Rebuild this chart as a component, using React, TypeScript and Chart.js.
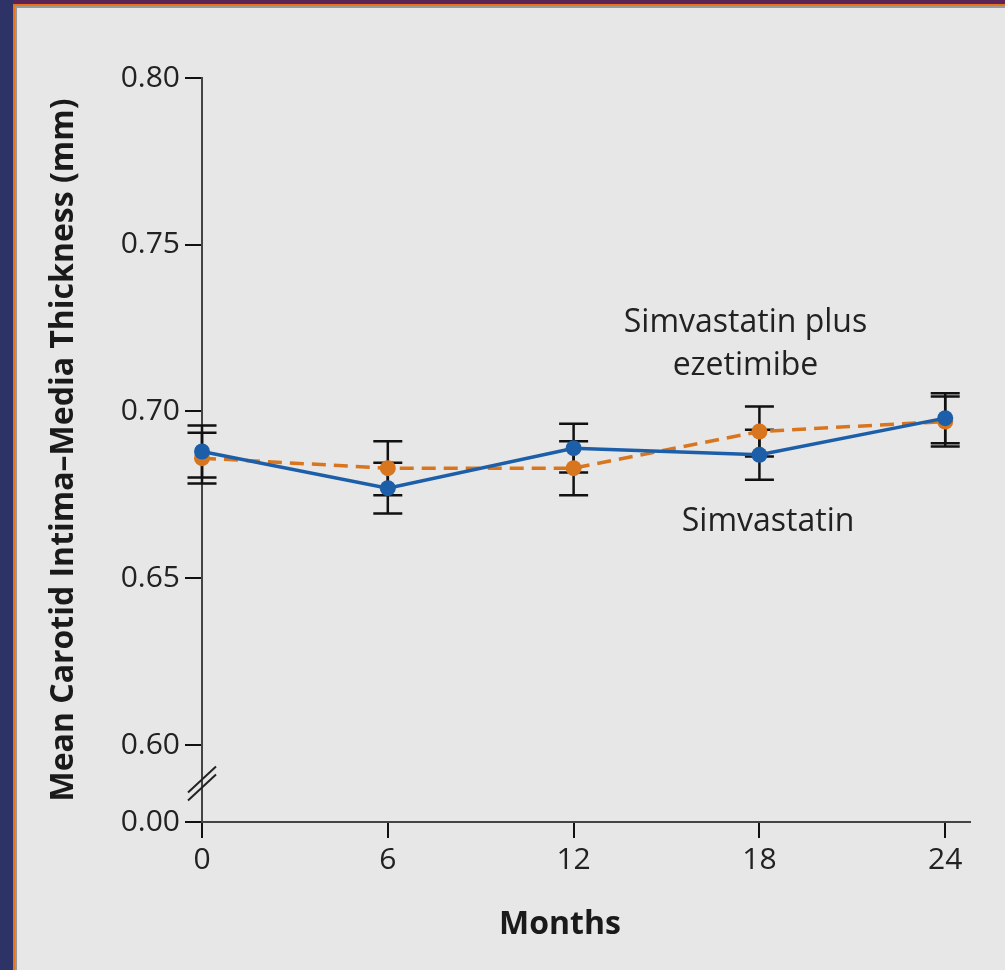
import React, { useEffect, useRef } from "react";
import { Chart, registerables } from "chart.js";

Chart.register(...registerables);

// ---- data ----
const months = [0, 6, 12, 18, 24];
const simvastatin = [0.688, 0.677, 0.689, 0.687, 0.698];
const simvastatinErr = [0.0078, 0.0076, 0.0073, 0.0075, 0.0075];
const combination = [0.686, 0.683, 0.683, 0.694, 0.697];
const combinationErr = [0.0076, 0.0081, 0.0081, 0.0075, 0.0075];
const seriesNames = ["Simvastatin", "Simvastatin plus ezetimibe"];
const xTickValues = [0, 6, 12, 18, 24];
// the lowest tick sits below an axis break and is labelled 0.00
const yTickValues = [0.5769, 0.6, 0.65, 0.7, 0.75, 0.8];
const yTickLabels = ["0.00", "0.60", "0.65", "0.70", "0.75", "0.80"];
const xTitle = "Months";
const yTitle = "Mean Carotid Intima\u2013Media Thickness (mm)";
const labelLines = [
  ["Simvastatin plus", "ezetimibe"],
  ["Simvastatin"],
];
const labelAnchors = [
  { month: 17.55, value: 0.7237 },
  { month: 18.28, value: 0.6643 },
];

const FONT = "'Open Sans', 'DejaVu Sans', sans-serif";
const BLUE = "#1c5fa8";
const ORANGE = "#d8761f";

const errors = [simvastatinErr, combinationErr];

const overlayPlugin = {
  id: "overlay",
  beforeDatasetsDraw(chart: any) {
    const { ctx, scales } = chart;
    const xs = scales.x;
    const ys = scales.y;
    ctx.save();
    ctx.strokeStyle = "#111";
    ctx.lineWidth = 2.5;
    chart.data.datasets.forEach((ds: any, di: number) => {
      ds.data.forEach((p: any, i: number) => {
        const e = errors[di][i];
        const px = xs.getPixelForValue(p.x);
        const top = ys.getPixelForValue(p.y + e);
        const bot = ys.getPixelForValue(p.y - e);
        const cap = 14.5;
        ctx.beginPath();
        ctx.moveTo(px, top);
        ctx.lineTo(px, bot);
        ctx.moveTo(px - cap, top);
        ctx.lineTo(px + cap, top);
        ctx.moveTo(px - cap, bot);
        ctx.lineTo(px + cap, bot);
        ctx.stroke();
      });
    });
    ctx.restore();
  },
  afterDraw(chart: any) {
    const { ctx, scales, chartArea } = chart;
    const xs = scales.x;
    const ys = scales.y;
    ctx.save();
    // axis break marks
    const ax = chartArea.left;
    const cy =
      (ys.getPixelForValue(yTickValues[0]) + ys.getPixelForValue(yTickValues[1])) / 2;
    ctx.strokeStyle = "#222";
    ctx.lineWidth = 2;
    [-4, 4].forEach((off) => {
      ctx.beginPath();
      ctx.moveTo(ax - 14, cy + off + 13);
      ctx.lineTo(ax + 14, cy + off - 13);
      ctx.stroke();
    });
    // series labels
    ctx.fillStyle = "#222";
    ctx.font = `32px ${FONT}`;
    ctx.textAlign = "center";
    ctx.textBaseline = "alphabetic";
    labelLines.forEach((lines, li) => {
      const a = labelAnchors[li];
      const px = xs.getPixelForValue(a.month);
      const py = ys.getPixelForValue(a.value);
      lines.forEach((t, k) => ctx.fillText(t, px, py + k * 43));
    });
    // axis titles
    ctx.font = `bold 32px ${FONT}`;
    ctx.fillStyle = "#1a1a1a";
    ctx.fillText(xTitle, 560, 934);
    ctx.translate(73, (chartArea.top + chartArea.bottom) / 2);
    ctx.rotate(-Math.PI / 2);
    ctx.fillText(yTitle, 0, 0);
    ctx.restore();
  },
};

export default function App() {
  const ref = useRef<HTMLCanvasElement | null>(null);
  useEffect(() => {
    if (!ref.current) return;
    const chart = new Chart(ref.current, {
      type: "line",
      data: {
        datasets: [
          {
            label: seriesNames[0],
            data: months.map((m, i) => ({ x: m, y: simvastatin[i] })),
            borderColor: BLUE,
            backgroundColor: BLUE,
            borderWidth: 3.5,
            pointRadius: 8,
            pointBorderWidth: 0,
            pointBackgroundColor: BLUE,
            tension: 0,
            clip: false,
          },
          {
            label: seriesNames[1],
            data: months.map((m, i) => ({ x: m, y: combination[i] })),
            borderColor: ORANGE,
            backgroundColor: ORANGE,
            borderWidth: 3.5,
            borderDash: [14, 8],
            pointRadius: 8,
            pointBorderWidth: 0,
            pointBackgroundColor: ORANGE,
            tension: 0,
            clip: false,
          },
        ],
      },
      options: {
        responsive: false,
        animation: false,
        devicePixelRatio: 1,
        layout: { padding: { top: 78, right: 35, left: 0, bottom: 0 } },
        plugins: {
          legend: { display: false },
          tooltip: { enabled: false },
          title: { display: false },
        },
        scales: {
          x: {
            type: "linear",
            min: 0,
            max: 24.8,
            afterBuildTicks: (s: any) => {
              s.ticks = xTickValues.map((v) => ({ value: v }));
            },
            afterFit: (s: any) => {
              s.height = 148;
            },
            grid: {
              drawOnChartArea: false,
              drawTicks: true,
              tickLength: 16,
              color: "#111",
              lineWidth: 2,
            },
            border: { display: true, color: "#444", width: 2 },
            ticks: {
              font: { family: FONT, size: 30 },
              color: "#222",
              padding: 4,
              maxRotation: 0,
              autoSkip: false,
            },
          },
          y: {
            type: "linear",
            min: yTickValues[0],
            max: 0.8,
            afterBuildTicks: (s: any) => {
              s.ticks = yTickValues.map((v) => ({ value: v }));
            },
            afterFit: (s: any) => {
              s.width = 202;
            },
            grid: {
              drawOnChartArea: false,
              drawTicks: true,
              tickLength: 17,
              color: "#111",
              lineWidth: 2,
            },
            border: { display: true, color: "#444", width: 2 },
            ticks: {
              font: { family: FONT, size: 30 },
              color: "#222",
              padding: 5,
              autoSkip: false,
              callback: (_v: any, i: number) => yTickLabels[i],
            },
          },
        },
      },
      plugins: [overlayPlugin],
    } as any);
    return () => chart.destroy();
  }, []);

  const abs = (s: React.CSSProperties): React.CSSProperties => ({ position: "absolute", ...s });
  return (
    <div
      style={{
        position: "fixed",
        left: 0,
        top: 0,
        width: 1005,
        height: 970,
        background: "#e7e7e7",
        overflow: "hidden",
      }}
    >
      <div style={abs({ left: 0, top: 0, right: 0, height: 4, background: "#5c2357" })} />
      <div style={abs({ left: 0, top: 0, width: 13, bottom: 0, background: "#2d3366" })} />
      <div style={abs({ left: 13, top: 4, right: 0, height: 2, background: "#e8731a" })} />
      <div style={abs({ left: 13, top: 4, width: 2, bottom: 0, background: "#e8731a" })} />
      <div style={abs({ left: 15, top: 6, right: 0, height: 2, background: "#9a9a9a" })} />
      <div style={abs({ left: 15, top: 6, width: 2, bottom: 0, background: "#9a9a9a" })} />
      <canvas
        ref={ref}
        width={1005}
        height={970}
        style={{ position: "absolute", left: 0, top: 0, display: "block" }}
      />
    </div>
  );
}
